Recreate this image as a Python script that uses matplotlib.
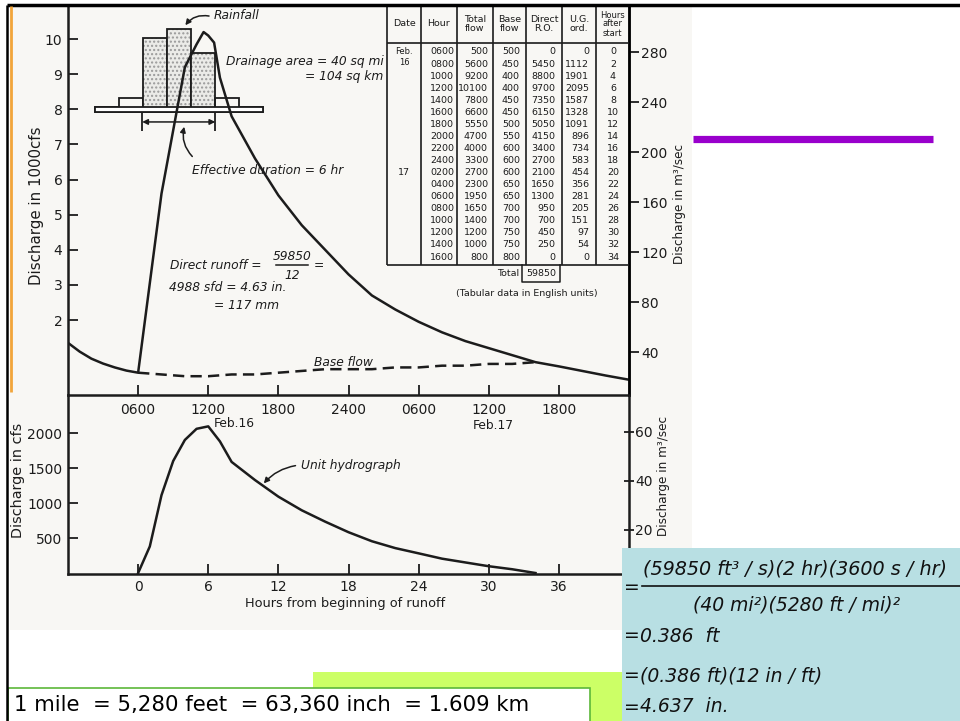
import numpy as np
import matplotlib.pyplot as plt
from matplotlib import font_manager
from matplotlib.patches import Rectangle

installed = {f.name for f in font_manager.fontManager.ttflist}
NARROW = 'Liberation Sans Narrow' in installed
plt.rcParams['font.family'] = ['Liberation Sans Narrow' if NARROW else 'DejaVu Sans', 'DejaVu Sans']
INK = '#1c1c1c'


def fs(size):
    # sizes are tuned for the narrow face; shrink a bit for the wide fallback
    return size if NARROW else size * 0.8


# ---- tabular data (Feb 16 0600 .. Feb 17 1600, every 2 hr) ----
hour_labels = ["0600", "0800", "1000", "1200", "1400", "1600", "1800", "2000", "2200",
               "2400", "0200", "0400", "0600", "0800", "1000", "1200", "1400", "1600"]
total_flow = [500, 5600, 9200, 10100, 7800, 6600, 5550, 4700, 4000,
              3300, 2700, 2300, 1950, 1650, 1400, 1200, 1000, 800]
base_flow = [500, 450, 400, 400, 450, 450, 500, 550, 600,
             600, 600, 650, 650, 700, 700, 750, 750, 800]
direct_ro = [0, 5450, 8800, 9700, 7350, 6150, 5050, 4150, 3400,
             2700, 2100, 1650, 1300, 950, 700, 450, 250, 0]
ug_ord = [0, 1112, 1901, 2095, 1587, 1328, 1091, 896, 734,
          583, 454, 356, 281, 205, 151, 97, 54, 0]
hrs_after = [0, 2, 4, 6, 8, 10, 12, 14, 16, 18, 20, 22, 24, 26, 28, 30, 32, 34]
t_table = [6, 8, 10, 12, 14, 16, 18, 20, 22, 24, 26, 28, 30, 32, 34, 36, 38, 40]
total_direct = "59850"

# ---- curve points (hours from Feb 16 0000, 1000 cfs) ----
t_pre = [0, 1, 2, 3, 4, 5]
q_pre = [1.35, 1.1, 0.9, 0.76, 0.65, 0.56]
t_peak = [11, 11.6, 12.5, 13]
q_peak = [9.85, 10.2, 9.9, 8.9]
t_post = [42, 44, 46, 48]
q_post = [0.68, 0.55, 0.42, 0.3]

# unit hydrograph extra points (hours from start, cfs)
h_extra = [1, 3, 5, 7]
u_extra = [380, 1600, 2060, 1880]

# rainfall block (hyetograph sketched on the discharge scale)
rain_edges = [2.3, 4.35, 6.4, 8.45, 10.5, 12.55, 14.6, 16.65]
rain_top = [8.06, 8.32, 10.03, 10.28, 9.6, 8.32, 8.06]
rain_base = 7.93

top_ticks = [6, 12, 18, 24, 30, 36, 42]
top_ticklabels = ["0600", "1200", "1800", "2400", "0600", "1200", "1800"]
bot_ticks = [0, 6, 12, 18, 24, 30, 36]

W, H = 960, 721
fig = plt.figure(figsize=(9.6, 7.21), dpi=100)


def box(x0, y0, x1, y1):
    return [x0 / W, 1 - y1 / H, (x1 - x0) / W, (y1 - y0) / H]


# background (scanned page)
bg = fig.add_axes([0, 0, 1, 1], zorder=0)
bg.set_xlim(0, W)
bg.set_ylim(H, 0)
bg.axis('off')
bg.add_patch(Rectangle((10, 5), 682, 625, color='#f8f7f4', lw=0))

# ---- upper hydrograph ----
ax1 = fig.add_axes(box(68, 5, 629, 395), zorder=2)
ax1.patch.set_visible(False)
t_all = t_pre + t_table[:3] + t_peak[:2] + [12] + t_peak[2:] + t_table[4:] + t_post
q_all = q_pre + [q / 1000 for q in total_flow[:3]] + q_peak[:2] + [total_flow[3] / 1000] \
    + q_peak[2:] + [q / 1000 for q in total_flow[4:]] + q_post
ax1.plot(t_all, q_all, color=INK, lw=1.8, solid_joinstyle='round')
ax1.plot(t_table, [q / 1000 for q in base_flow], color=INK, lw=1.8, ls=(0, (4.5, 2.5)))

for i in range(len(rain_top)):
    x0 = rain_edges[i]
    w = rain_edges[i + 1] - rain_edges[i]
    if rain_top[i] > 9:
        ax1.bar(x0, rain_top[i] - rain_base, w, bottom=rain_base, align='edge',
                facecolor='#ebebe8', edgecolor='#9a9a9a', hatch='....', lw=0)
    ax1.bar(x0, rain_top[i] - rain_base, w, bottom=rain_base, align='edge',
            fill=False, edgecolor=INK, lw=1.3)
ax1.bar(rain_edges[0], 0.13, rain_edges[-1] - rain_edges[0], bottom=rain_base,
        align='edge', facecolor='white', edgecolor=INK, lw=1.3)

ax1.set_xlim(0, 48)
ax1.set_ylim(-0.135, 10.97)
ax1.set_xticks(top_ticks)
ax1.set_xticklabels(top_ticklabels)
ax1.set_yticks(range(2, 11))
ax1.tick_params(axis='both', direction='in', length=7, width=1.3, colors=INK,
                labelsize=fs(12.5))
ax1.tick_params(axis='x', pad=6)
ax1.tick_params(axis='y', pad=4)
ax1.spines['top'].set_visible(False)
for s in ['left', 'right', 'bottom']:
    ax1.spines[s].set_linewidth(1.8)
    ax1.spines[s].set_color(INK)

ax1r = ax1.twinx()
ax1r.patch.set_visible(False)
ax1r.set_ylim(5.6, 317.6)
ax1r.set_yticks(range(40, 281, 40))
ax1r.tick_params(axis='y', direction='out', length=7, width=1.3, colors=INK,
                 labelsize=fs(12.5), pad=2)
for s in ['top', 'left', 'bottom']:
    ax1r.spines[s].set_visible(False)
ax1r.spines['right'].set_linewidth(1.8)

# annotations, upper panel
it = dict(style='italic', color=INK, fontsize=fs(11))
ax1.text(12.45, 10.66, 'Rainfall', va='center', **it)
ax1.annotate('', xy=(9.9, 10.33), xytext=(12.3, 10.64),
             arrowprops=dict(arrowstyle='-|>', lw=1.1, color=INK, mutation_scale=8,
                             connectionstyle='arc3,rad=0.35'))
ax1.text(13.5, 9.36, 'Drainage area = 40 sq mi', va='center', **it)
ax1.text(27.0, 8.93, '= 104 sq km', va='center', ha='right', **it)
ax1.annotate('', xy=(6.35, 7.64), xytext=(12.6, 7.64),
             arrowprops=dict(arrowstyle='<|-|>', lw=1.1, color=INK, mutation_scale=8,
                             shrinkA=0, shrinkB=0))
ax1.vlines([6.35, 12.6], 7.38, 7.92, color=INK, lw=1.3)
ax1.text(10.6, 6.27, 'Effective duration = 6 hr', va='center', **it)
ax1.annotate('', xy=(10.0, 7.58), xytext=(10.8, 6.6),
             arrowprops=dict(arrowstyle='-|>', lw=1.1, color=INK, mutation_scale=8,
                             connectionstyle='arc3,rad=-0.3'))
ax1.text(8.75, 3.56, 'Direct runoff =', va='center', **it)
ax1.text(19.15, 3.82, total_direct, va='center', ha='center', **it)
ax1.plot([17.8, 20.5], [3.56, 3.56], color=INK, lw=1.1)
ax1.text(19.15, 3.27, '12', va='center', ha='center', **it)
ax1.text(21.0, 3.56, '=', va='center', **it)
ax1.text(8.6, 2.93, '4988 sfd = 4.63 in.', va='center', **it)
ax1.text(12.45, 2.42, '= 117 mm', va='center', **it)
ax1.text(23.6, 0.8, 'Base flow', va='center', ha='center', **it)

# ---- lower panel: unit hydrograph ----
ax2 = fig.add_axes(box(68, 395, 629, 574), zorder=2)
ax2.patch.set_visible(False)
h_all = sorted(hrs_after + h_extra)
u_lookup = dict(zip(hrs_after + h_extra, ug_ord + u_extra))
ax2.plot(h_all, [u_lookup[h] for h in h_all], color=INK, lw=1.8, solid_joinstyle='round')
ax2.set_xlim(-6, 42)
ax2.set_ylim(-14, 2543)
ax2.set_xticks(bot_ticks)
ax2.set_yticks([500, 1000, 1500, 2000])
ax2.tick_params(axis='both', direction='in', length=7, width=1.3, colors=INK,
                labelsize=fs(12.5))
ax2.tick_params(axis='x', pad=4)
ax2.tick_params(axis='y', pad=4)
ax2.spines['top'].set_visible(False)
for s in ['left', 'right', 'bottom']:
    ax2.spines[s].set_linewidth(1.8)
    ax2.spines[s].set_color(INK)

ax2r = ax2.twinx()
ax2r.patch.set_visible(False)
ax2r.set_ylim(2.0, 75.1)
ax2r.set_yticks([20, 40, 60])
ax2r.tick_params(axis='y', direction='inout', length=7, width=1.3, colors=INK,
                 labelsize=fs(12.5), pad=1)
for s in ['top', 'left', 'bottom', 'right']:
    ax2r.spines[s].set_visible(False)

ax2.text(6.45, 2130, 'Feb.16', ha='left', va='center', color=INK, fontsize=fs(11))
ax2.text(28.6, 2110, 'Feb.17', ha='left', va='center', color=INK, fontsize=fs(11))
ax2.text(13.9, 1540, 'Unit hydrograph', va='center', **it)
ax2.annotate('', xy=(10.6, 1250), xytext=(13.7, 1540),
             arrowprops=dict(arrowstyle='-|>', lw=1.1, color=INK, mutation_scale=8,
                             connectionstyle='arc3,rad=0.2'))

# ---- foreground: labels, table, slide boxes ----
fg = fig.add_axes([0, 0, 1, 1], zorder=5)
fg.set_xlim(0, W)
fg.set_ylim(H, 0)
fg.axis('off')

lab = dict(color=INK, rotation=90, ha='center', va='center')
fg.text(37, 206, 'Discharge in 1000cfs', fontsize=fs(13.5), **lab)
fg.text(18, 480, 'Discharge in cfs', fontsize=fs(13), **lab)
fg.text(679, 204, 'Discharge in m³/sec', fontsize=fs(10.8), **lab)
fg.text(663, 476, 'Discharge in m³/sec', fontsize=fs(10.8), **lab)
fg.text(345, 603, 'Hours from beginning of runoff', ha='center', va='center',
        color=INK, fontsize=fs(11.6))

# table
col_x = [387, 421, 457, 493, 526, 562, 596, 629]
headers = ['Date', 'Hour', 'Total\nflow', 'Base\nflow', 'Direct\nR.O.', 'U.G.\nord.',
           'Hours\nafter\nstart']
fg.vlines(col_x[:-1], 5, 265, color=INK, lw=1.2)
fg.hlines([43, 265], col_x[0], col_x[-1], color=INK, lw=1.2)
for j, hdr in enumerate(headers):
    xc = (col_x[j] + col_x[j + 1]) / 2
    fg.text(xc, 24, hdr, ha='center', va='center', fontsize=fs(7.5 if j == 6 else 8.5),
            color=INK, linespacing=1.0)
row_y = [52 + 12.06 * i for i in range(len(hour_labels))]
tk = dict(va='center', fontsize=fs(8.5), color=INK)
for i, y in enumerate(row_y):
    fg.text(454, y, hour_labels[i], ha='right', **tk)
    fg.text(488, y, str(total_flow[i]), ha='right', **tk)
    fg.text(520, y, str(base_flow[i]), ha='right', **tk)
    fg.text(555, y, str(direct_ro[i]), ha='right', **tk)
    fg.text(589, y, str(ug_ord[i]), ha='right', **tk)
    fg.text(613, y, str(hrs_after[i]), ha='center', **tk)
fg.text(404, 51, 'Feb.', ha='center', va='center', fontsize=fs(7.5), color=INK)
fg.text(404, 62.5, '16', ha='center', va='center', fontsize=fs(7.5), color=INK)
fg.text(404, row_y[10], '17', ha='center', **tk)
fg.text(519, 274, 'Total', ha='right', **tk)
fg.text(541, 274, total_direct, ha='center', **tk)
fg.plot([522, 522, 560, 560], [265, 282, 282, 265], color=INK, lw=1.1)
fg.text(527, 293, '(Tabular data in English units)', ha='center', **tk)

# slide frame
fg.plot([7, 960], [5, 5], color='black', lw=2.5, solid_capstyle='butt')
fg.plot([7, 7], [5, 721], color='black', lw=1.8, solid_capstyle='butt')
fg.plot([10.5, 10.5], [6, 392], color='#f2a53a', lw=2.0, solid_capstyle='butt')
fg.plot([693, 933], [138.5, 138.5], color='#9900cc', lw=5.2, solid_capstyle='butt')

# equation box
fg.add_patch(Rectangle((622, 548), 338, 173, facecolor='#b8dfe3', lw=0))
eq = dict(color='#111111', fontsize=13.5, va='center', family='DejaVu Sans')
eqi = dict(eq, style='italic')
fg.text(624, 587, '=', **eq)
fg.text(643, 569, '(59850 ft³ / s)(2 hr)(3600 s / hr)', ha='left',
        **dict(eqi, fontsize=13.8))
fg.plot([642, 960], [586, 586], color='#111111', lw=1.2)
fg.text(797, 605, '(40 mi²)(5280 ft / mi)²', ha='center', **eqi)
fg.text(624, 636, '=', **eq)
fg.text(640, 636, '0.386  ft', ha='left', **eqi)
fg.text(624, 676, '=', **eq)
fg.text(640, 676, '(0.386 ft)(12 in / ft)', ha='left', **eqi)
fg.text(624, 707, '=', **eq)
fg.text(640, 707, '4.637  in.', ha='left', **eqi)

# unit conversion note
fg.add_patch(Rectangle((313, 672), 309, 49, facecolor='#ccff66', lw=0))
fg.add_patch(Rectangle((8, 688), 582, 40, facecolor='white', edgecolor='#5cb83a', lw=1.2))
fg.text(14, 705, '1 mile  = 5,280 feet  = 63,360 inch  = 1.609 km', va='center',
        ha='left', fontsize=15.3, color='black', family='DejaVu Sans')

fig.savefig('out.png', dpi=100)
